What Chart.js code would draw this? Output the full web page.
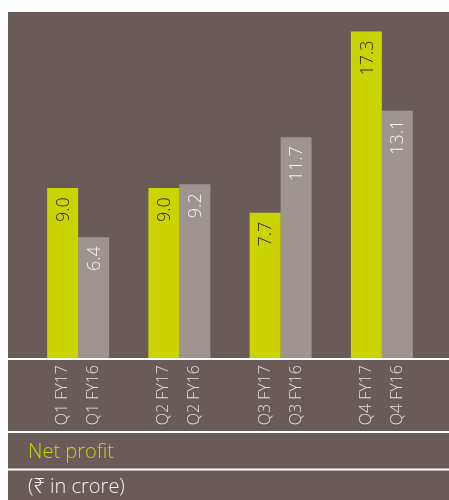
<!DOCTYPE html>
<html>
<head>
<meta charset="utf-8">
<script src="https://cdn.jsdelivr.net/npm/chart.js@4.4.1/dist/chart.umd.min.js"></script>
<style>
  html, body { margin: 0; padding: 0; background: #fff; }
  canvas { display: block; }
</style>
</head>
<body>
<canvas id="grafico" width="449" height="500"></canvas>
<script>
// datos
const trimestres = ["Q1", "Q2", "Q3", "Q4"];
const etiquetasFY17 = ["Q1 FY17", "Q2 FY17", "Q3 FY17", "Q4 FY17"];
const etiquetasFY16 = ["Q1 FY16", "Q2 FY16", "Q3 FY16", "Q4 FY16"];
const valoresFY17 = [9.0, 9.0, 7.7, 17.3];
const valoresFY16 = [6.4, 9.2, 11.7, 13.1];
const titulo = "Net profit";
const unidad = "(\u20B9 in crore)";

const fondo = "#695c58";
const verde = "#cbd300";
const gris = "#9e9490";
const fuente = "'Open Sans', 'Noto Sans', sans-serif";

const pluginDibujo = {
  id: "dibujo",
  beforeDraw(chart) {
    const ctx = chart.ctx;
    ctx.save();
    ctx.fillStyle = fondo;
    ctx.fillRect(8, 12, chart.width - 8, chart.height - 12);
    ctx.restore();
  },
  afterDatasetsDraw(chart) {
    const ctx = chart.ctx;
    const base = chart.chartArea.bottom;
    ctx.save();
    // lineas blancas
    ctx.strokeStyle = "#ffffff";
    ctx.lineWidth = 2;
    [base + 1, 432, 469.5].forEach((y) => {
      ctx.beginPath();
      ctx.moveTo(8, y);
      ctx.lineTo(chart.width, y);
      ctx.stroke();
    });
    const etiquetas = [etiquetasFY17, etiquetasFY16];
    chart.data.datasets.forEach((ds, i) => {
      const meta = chart.getDatasetMeta(i);
      meta.data.forEach((bar, j) => {
        // valor dentro de la barra
        ctx.save();
        ctx.translate(bar.x, bar.y + 9);
        ctx.rotate(-Math.PI / 2);
        ctx.textAlign = "right";
        ctx.textBaseline = "middle";
        ctx.font = "300 18px " + fuente;
        ctx.fillStyle = i === 0 ? "#2b2b1a" : "#f4f2f0";
        ctx.fillText(ds.data[j].toFixed(1), 0, 1);
        ctx.restore();
        // etiqueta del eje
        ctx.save();
        ctx.translate(bar.x, base + 7);
        ctx.rotate(-Math.PI / 2);
        ctx.textAlign = "right";
        ctx.textBaseline = "middle";
        ctx.font = "300 16px " + fuente;
        ctx.fillStyle = "#e2dedb";
        ctx.fillText(etiquetas[i][j], 0, 0);
        ctx.restore();
      });
    });
    ctx.textAlign = "left";
    ctx.textBaseline = "middle";
    ctx.font = "300 20px " + fuente;
    ctx.fillStyle = verde;
    ctx.fillText(titulo, 28, 452);
    ctx.fillStyle = "#f4f2f0";
    ctx.fillText(unidad, 28, 487);
    ctx.restore();
  }
};

new Chart(document.getElementById("grafico"), {
  type: "bar",
  data: {
    labels: trimestres,
    datasets: [
      { label: "FY17", data: valoresFY17, backgroundColor: verde },
      { label: "FY16", data: valoresFY16, backgroundColor: gris }
    ]
  },
  options: {
    responsive: false,
    animation: false,
    layout: { padding: { left: 27.5, right: 16.5, top: 12, bottom: 142 } },
    datasets: { bar: { categoryPercentage: 0.612, barPercentage: 1 } },
    plugins: { legend: { display: false }, tooltip: { enabled: false } },
    scales: {
      x: { display: false },
      y: { display: false, min: 0, max: 18.33 }
    }
  },
  plugins: [pluginDibujo]
});
</script>
</body>
</html>
